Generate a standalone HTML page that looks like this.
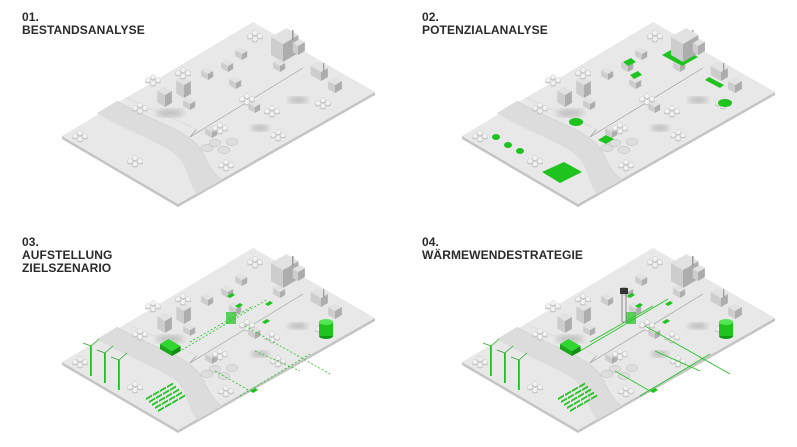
<!DOCTYPE html>
<html><head><meta charset="utf-8"><style>
html,body{margin:0;padding:0;background:#fff;width:797px;height:447px;overflow:hidden}
.lbl{position:absolute;font-family:"Liberation Sans",sans-serif;font-weight:bold;font-size:12px;line-height:13px;color:#2a2a2a;letter-spacing:0.1px}
svg{position:absolute;left:0;top:0}
</style></head><body>
<div class="lbl" style="left:22px;top:11px">01.<br>BESTANDSANALYSE</div>
<div class="lbl" style="left:422px;top:11px">02.<br>POTENZIALANALYSE</div>
<div class="lbl" style="left:22px;top:236px">03.<br>AUFSTELLUNG<br>ZIELSZENARIO</div>
<div class="lbl" style="left:422px;top:236px">04.<br>WÄRMEWENDESTRATEGIE</div>
<svg id="s" width="797" height="447" viewBox="0 0 797 447" xmlns="http://www.w3.org/2000/svg">
<defs><filter id="bl"><feGaussianBlur stdDeviation="3"/></filter></defs>
</svg>
<script>
var S=document.getElementById('s'),NS='http://www.w3.org/2000/svg';
function el(t,a,p){var e=document.createElementNS(NS,t);for(var k in a)e.setAttribute(k,a[k]);(p||S).appendChild(e);return e;}
function box(g,x,y,w,d,h,top,l,r){
  var ax=w*0.86,ay=w*0.5,bx=d*0.86,by=d*0.5;
  el('polygon',{points:[x,y,x-ax,y-ay,x-ax,y-ay-h,x,y-h].join(' '),fill:l||'#cdcdcd'},g);
  el('polygon',{points:[x,y,x+bx,y-by,x+bx,y-by-h,x,y-h].join(' '),fill:r||'#adadad'},g);
  el('polygon',{points:[x,y-h,x-ax,y-ay-h,x-ax+bx,y-ay-by-h,x+bx,y-by-h].join(' '),fill:top||'#e2e2e2'},g);
}
function tree(g,x,y){[[0,0],[5,3],[-5,3],[0,6]].forEach(function(p){el('ellipse',{cx:x+p[0],cy:y+p[1]+2,rx:3,ry:1.5,fill:'#c8c8c8'},g);el('circle',{cx:x+p[0],cy:y+p[1],r:2.4,fill:'#f2f2f2',stroke:'#c8c8c8','stroke-width':0.5},g);});}
function base(ox,oy){
  var g=el('g',{transform:'translate('+ox+','+oy+')'});
  el('polygon',{points:'62,136 178,204 375,92 375,95 178,207 62,139',fill:'#c4c4c4'},g);
  el('polygon',{points:'62,136 253,22 375,92 178,204',fill:'#e8e8e8'},g);
  el('path',{d:'M117,101 C145,118 175,126 192,140 C208,153 205,168 222,180 L197,194 C185,178 190,165 172,152 C150,138 120,128 97,113 Z',fill:'#dcdcdc'},g);
  el('path',{d:'M117,101 C145,118 175,126 192,140 C208,153 205,168 222,180',fill:'none',stroke:'#cfcfcf','stroke-width':0.6},g);
  el('path',{d:'M125,97 C155,112 185,122 200,132',fill:'none',stroke:'#d2d2d2','stroke-width':0.5},g);
  el('line',{x1:190,y1:137,x2:303,y2:68,stroke:'#999','stroke-width':0.6},g);
  el('line',{x1:190,y1:137,x2:196,y2:130,stroke:'#999','stroke-width':0.6},g);
  el('ellipse',{cx:298,cy:100,rx:10,ry:3,fill:'#b5b5b5',filter:'url(#bl)'},g);
  el('ellipse',{cx:260,cy:128,rx:9,ry:3,fill:'#b5b5b5',filter:'url(#bl)'},g);
  el('ellipse',{cx:170,cy:113,rx:14,ry:4,fill:'#c0c0c0',filter:'url(#bl)'},g);
  [[215,143],[232,142],[224,150],[207,148]].forEach(function(c){el('ellipse',{cx:c[0],cy:c[1],rx:6,ry:3.5,fill:'#dedede',stroke:'#b8b8b8','stroke-width':0.5},g);});
  box(g,283,62,14,18,18);box(g,298,55,6,8,9);
  el('rect',{x:292,y:30,width:1.5,height:10,fill:'#999'},g);
  box(g,321,81,12,8,9);el('rect',{x:323,y:63,width:1.2,height:8,fill:'#999'},g);
  box(g,335,93,8,8,8);
  [[208,80],[228,72],[242,60],[236,89],[190,110],[280,72],[255,113],[212,138]].forEach(function(h){box(g,h[0],h[1],8,6,6);});
  box(g,165,107,9,8,12);box(g,184,98,9,8,13);
  [[255,33],[183,70],[153,77],[140,105],[80,133],[135,158],[220,125],[272,108],[323,100],[278,132],[247,96],[226,162]].forEach(function(t){tree(g,t[0],t[1]);});
  return g;
}
var G1=base(0,0),G2=base(400,0),G3=base(0,226),G4=base(400,226);
var GR='#1ec31e';
(function(g){
  el('polygon',{points:'262,55 282,66 298,57 278,46',fill:GR},g);
  el('polygon',{points:'223,62 231,58 236,62 228,66',fill:GR},g);
  el('polygon',{points:'230,75 238,71 242,75 234,79',fill:GR},g);
  el('polygon',{points:'305,80 320,88 324,85 309,77',fill:GR},g);
  el('ellipse',{cx:325,cy:103,rx:7,ry:4,fill:GR},g);
  el('ellipse',{cx:176,cy:122,rx:7,ry:4,fill:GR},g);
  [[96,137,3],[108,145,3],[120,151,3]].forEach(function(c){el('ellipse',{cx:c[0],cy:c[1],rx:c[2]+1,ry:c[2],fill:GR},g);});
  el('polygon',{points:'142,172 160,183 182,172 164,162',fill:GR},g);
  el('polygon',{points:'198,140 206,144 214,139 206,135',fill:GR},g);
  box(g,283,62,14,18,18);box(g,298,55,6,8,9);
})(G2);
function scen(g,tower){
  var d=tower?'':'2,2';
  [[175,128,268,73],[190,116,253,80],[240,170,310,128],[255,125,300,145],[245,100,330,148],[215,145,250,165]].forEach(function(l){el('line',{x1:l[0],y1:l[1],x2:l[2],y2:l[3],stroke:GR,'stroke-width':0.8,'stroke-dasharray':d},g);});
  [[90,128],[104,135],[118,142]].forEach(function(t){el('rect',{x:t[0],y:t[1]-8,width:1.8,height:30,fill:GR},g);el('line',{x1:t[0]+1,y1:t[1]-8,x2:t[0]+9,y2:t[1]-15,stroke:'#2aa52a','stroke-width':0.8},g);el('line',{x1:t[0]+1,y1:t[1]-8,x2:t[0]-7,y2:t[1]-11,stroke:'#2aa52a','stroke-width':0.8},g);});
  var sx=tower?158:146;
  for(var i=0;i<4;i++)for(var j=0;j<5;j++)el('polygon',{points:[sx+i*7+j*3,172+i*-4+j*3,sx+i*7+j*3+6,172+i*-4+j*3-3.5,sx+i*7+j*3+6,172+i*-4+j*3-1.5,sx+i*7+j*3,172+i*-4+j*3+2].join(' '),fill:GR},g);
  box(g,172,130,14,10,5,'#2fd62f','#19a819','#128e12');
  el('ellipse',{cx:326,cy:110,rx:7,ry:3,fill:'#0f9a0f'},g);
  el('rect',{x:319,y:96,width:14,height:14,fill:GR},g);
  el('ellipse',{cx:326,cy:96,rx:7,ry:3,fill:'#55e655'},g);
  [[227,70],[235,80],[262,96],[250,165],[265,78]].forEach(function(p){el('polygon',{points:[p[0],p[1],p[0]+5,p[1]-3,p[0]+8,p[1]-1,p[0]+3,p[1]+2].join(' '),fill:GR},g);});
  el('rect',{x:226,y:86,width:10,height:12,fill:GR,opacity:0.7},g);
  if(tower){el('rect',{x:222,y:62,width:4,height:34,fill:'none',stroke:'#777','stroke-width':0.8},g);el('rect',{x:220,y:62,width:8,height:6,fill:'#333'},g);}
}
scen(G3,false);scen(G4,true);
</script>
</body></html>
